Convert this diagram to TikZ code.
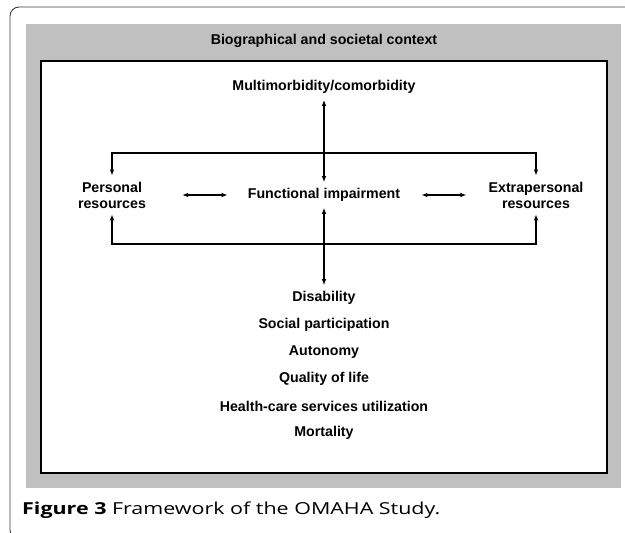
\documentclass[tikz,border=0pt]{standalone}
\usepackage{fontspec}
\setmainfont{Liberation Sans}
\newfontfamily\capfont[FakeStretch=1.3]{Open Sans}
\usetikzlibrary{arrows.meta}
\definecolor{ctxgray}{RGB}{192,192,192}
\definecolor{framegray}{RGB}{60,60,60}
\begin{document}
\begin{tikzpicture}
    [x=1pt,y=-1pt,
     lbl/.style={font=\bfseries\fontsize{14.2}{16}\selectfont,align=center,inner sep=6pt},
     pre/.style={<->,>={Latex[length=6pt,width=4.5pt]},line width=1.1pt}]
    \useasboundingbox (0,0) rectangle (625,533);
    % frame and boxes
    \draw [framegray,line width=0.9pt,rounded corners=9pt] (640,539) -- (10,539) -- (10,7) -- (640,7);
    \fill [ctxgray] (26,24) rectangle (621,488);
    \draw [fill=white,line width=1.1pt] (41,61) rectangle (607,473);
    \node [lbl] (ctx) at (324,41) {Biographical and societal context};
    % main nodes
    \node [lbl] (mult) at (324,87) {Multimorbidity/comorbidity};
    \node [lbl] (func) at (324,195) {Functional impairment};
    \node [lbl] (pers) at (112,195) {Personal\\resources};
    \node [lbl] (extra) at (536,195) {Extrapersonal\\resources};
    \coordinate (topbar) at (324,153);
    \coordinate (botbar) at (324,244);
    % outcomes
    \node [lbl] (dis) at (324,298) {Disability};
    \node [lbl] (soc) at (324,325) {Social participation};
    \node [lbl] (aut) at (324,352) {Autonomy};
    \node [lbl] (qol) at (324,379) {Quality of life};
    \node [lbl] (hcs) at (324,406) {Health-care services utilization};
    \node [lbl] (mort) at (324,433) {Mortality};
    % connectors
    \draw [pre] (mult) -- (func);
    \draw [pre] (func) -- (dis);
    \draw [pre] (pers) |- (topbar) -| (extra);
    \draw [pre] (pers) |- (botbar) -| (extra);
    \draw [pre,shorten <=30pt,shorten >=14pt,yshift=-2pt] (pers) -- (func);
    \draw [pre,shorten <=15pt,shorten >=16pt,yshift=-2pt] (func) -- (extra);
    % caption
    \node [anchor=west,inner sep=0pt,font=\capfont\fontsize{16.5}{19}\selectfont] (cap) at (22,510)
      {\textbf{Figure 3} Framework of the OMAHA Study.};
\end{tikzpicture}
\end{document}
